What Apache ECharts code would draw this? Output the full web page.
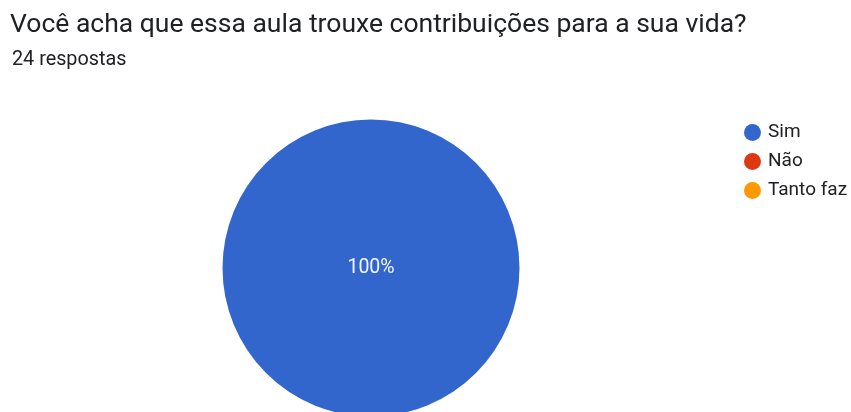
<!DOCTYPE html>
<html>
<head>
<meta charset="utf-8">
<script src="https://cdn.jsdelivr.net/npm/echarts@6/dist/echarts.min.js"></script>
<style>
html,body{margin:0;padding:0;background:#fff;}
#chart{width:851px;height:412px;}
</style>
</head>
<body>
<div id="chart"></div>
<script>
const titleText = 'Você acha que essa aula trouxe contribuições para a sua vida?';
const subtitleText = '24 respostas';
const categories = ['Sim', 'Não', 'Tanto faz'];
const values = [24, 0, 0];
const colors = ['#3366cc', '#dc3912', '#ff9900'];

const chart = echarts.init(document.getElementById('chart'));
chart.setOption({
  animation: false,
  color: colors,
  title: [
    {text: titleText, left: 5, top: 7, textStyle: {fontFamily: 'Roboto', fontSize: 26.5, fontWeight: 'normal', color: '#202124'}},
    {text: subtitleText, left: 7, top: 45, textStyle: {fontFamily: 'Roboto', fontSize: 19.8, fontWeight: 'normal', color: '#202124'}}
  ],
  legend: {
    orient: 'vertical', left: 739, top: 118, icon: 'circle',
    itemWidth: 17, itemHeight: 17, itemGap: 10,
    textStyle: {fontFamily: 'Roboto', fontSize: 19, color: '#202124', padding: [0, 0, 0, 2]},
    data: categories
  },
  series: [{
    type: 'pie',
    center: [371, 268],
    radius: 148.5,
    startAngle: 90,
    clockwise: true,
    stillShowZeroSum: false,
    data: categories.map((c, i) => ({name: c, value: values[i]})),
    label: {
      position: 'center', color: '#f4f6fb', fontFamily: 'Roboto', fontSize: 19.5,
      formatter: p => p.value > 0 ? Math.round(p.percent) + '%' : ''
    },
    labelLine: {show: false},
    itemStyle: {borderWidth: 0},
    emphasis: {disabled: true}
  }]
});
</script>
</body>
</html>
